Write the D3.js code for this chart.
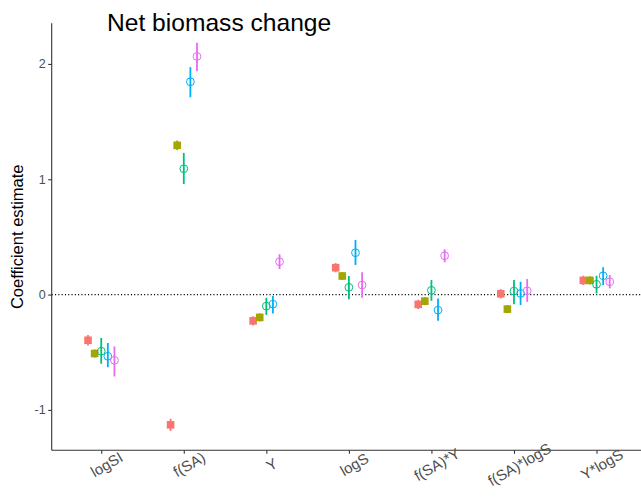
<!DOCTYPE html>
<html><head><meta charset="utf-8">
<script src="https://cdn.jsdelivr.net/npm/d3@7"></script>
<style>body{margin:0;background:#fff}svg{display:block}</style>
</head><body>
<svg id="chart" width="641" height="504"></svg>
<script>
const categories = ["logSI","f(SA)","Y","logS","f(SA)*Y","f(SA)*logS","Y*logS"];
const seriesNames = ["s1","s2","s3","s4","s5"];
const seriesColors = ["#F8766D","#A3A500","#00BF7D","#00B0F6","#E76BF3"];
const seriesShapes = ["square","square","circle","circle","circle"];
const yTicks = [-1,0,1,2];

const s1Est = [-0.396,-1.129,-0.228,0.233,-0.085,0.007,0.123];
const s1Lo  = [-0.441,-1.182,-0.268,0.193,-0.125,-0.033,0.083];
const s1Hi  = [-0.351,-1.076,-0.188,0.273,-0.045,0.047,0.163];
const s2Est = [-0.511,1.294,-0.198,0.161,-0.057,-0.126,0.123];
const s2Lo  = [-0.546,1.252,-0.233,0.126,-0.092,-0.161,0.088];
const s2Hi  = [-0.476,1.336,-0.163,0.196,-0.022,-0.091,0.158];
const s3Est = [-0.491,1.091,-0.100,0.063,0.037,0.030,0.089];
const s3Lo  = [-0.600,0.958,-0.176,-0.042,-0.054,-0.083,0.010];
const s3Hi  = [-0.376,1.228,-0.028,0.161,0.126,0.126,0.163];
const s4Est = [-0.535,1.845,-0.083,0.363,-0.135,0.010,0.163];
const s4Lo  = [-0.630,1.711,-0.163,0.257,-0.228,-0.091,0.083];
const s4Hi  = [-0.420,1.972,-0.013,0.474,-0.033,0.111,0.237];
const s5Est = [-0.570,2.065,0.285,0.083,0.337,0.033,0.111];
const s5Lo  = [-0.710,1.937,0.222,-0.028,0.280,-0.063,0.054];
const s5Hi  = [-0.450,2.184,0.350,0.193,0.393,0.135,0.170];

const est = [s1Est,s2Est,s3Est,s4Est,s5Est];
const lo = [s1Lo,s2Lo,s3Lo,s4Lo,s5Lo];
const hi = [s1Hi,s2Hi,s3Hi,s4Hi,s5Hi];

const data = [];
seriesNames.forEach((s,si)=>categories.forEach((c,ci)=>{
  data.push({series:s, si, cat:c, est:est[si][ci], lo:lo[si][ci], hi:hi[si][ci]});
}));

const svg = d3.select("#chart");
const font = "'Liberation Sans', Arial, sans-serif";
const mLeft = 51.7, mTop = 23.3, mBottom = 450.3;
const step = 82.55;
const mRight = mLeft + step*7.2;

const x = d3.scalePoint().domain(categories).range([mLeft, mRight]).padding(0.6);
const dodgeW = 0.4*x.step();
const xs = d3.scaleBand().domain(seriesNames).range([-dodgeW/2, dodgeW/2]);
const px = d => x(d.cat) + xs(d.series) + xs.bandwidth()/2;

const mn = d3.min(data, d=>d.lo), mx = d3.max(data, d=>d.hi);
const pad = (mx-mn)*0.05;
const y = d3.scaleLinear().domain([mn-pad, mx+pad]).range([mBottom, mTop]);

const color = d3.scaleOrdinal().domain(seriesNames).range(seriesColors);
const shape = d3.scaleOrdinal().domain(seriesNames).range(seriesShapes);

// zero line
svg.append("line").attr("x1",mLeft).attr("x2",641).attr("y1",y(0)).attr("y2",y(0))
  .attr("stroke","#000").attr("stroke-width",1.1).attr("stroke-dasharray","1.1,2.2");

// axes
const yAxis = d3.axisLeft(y).tickValues(yTicks).tickSize(3.5).tickPadding(2.5).tickFormat(d => String(d));
const gy = svg.append("g").attr("transform",`translate(${mLeft},0)`).call(yAxis);
gy.select(".domain").attr("d",`M0,${mTop}V${mBottom}`).attr("stroke","#333").attr("stroke-width",1.1);
gy.selectAll(".tick line").attr("stroke","#333").attr("stroke-width",1.1);
gy.selectAll(".tick text").attr("fill","#4D4D4D").style("font-family",font).style("font-size","12.5px");

const xAxis = d3.axisBottom(x).tickSize(3.5).tickPadding(0);
const gx = svg.append("g").attr("transform",`translate(0,${mBottom})`).call(xAxis);
gx.select(".domain").attr("d",`M${mLeft},0H641`).attr("stroke","#333").attr("stroke-width",1.1);
gx.selectAll(".tick line").attr("stroke","#333").attr("stroke-width",1.1);
gx.selectAll(".tick text").attr("fill","#4D4D4D").style("font-family",font).style("font-size","15px")
  .attr("text-anchor","middle").attr("dy",null).attr("dominant-baseline","hanging")
  .attr("y",null).attr("transform","translate(2,9) rotate(-30)");

// error bars
svg.append("g").selectAll("line").data(data).join("line")
  .attr("x1",px).attr("x2",px).attr("y1",d=>y(d.lo)).attr("y2",d=>y(d.hi))
  .attr("stroke",d=>color(d.series)).attr("stroke-width",1.8);

// points
const pts = svg.append("g");
pts.selectAll("rect").data(data.filter(d=>shape(d.series)==="square")).join("rect")
  .attr("x",d=>px(d)-3.8).attr("y",d=>y(d.est)-3.8).attr("width",7.6).attr("height",7.6)
  .attr("fill",d=>color(d.series));
pts.selectAll("circle").data(data.filter(d=>shape(d.series)==="circle")).join("circle")
  .attr("cx",px).attr("cy",d=>y(d.est)).attr("r",3.9)
  .attr("fill","none").attr("stroke",d=>color(d.series)).attr("stroke-width",1);

// titles
svg.append("text").attr("x",107).attr("y",30.7).text("Net biomass change")
  .style("font-family",font).style("font-size","24.6px").attr("fill","#000");
svg.append("text").attr("transform",`translate(23,${(mTop+mBottom)/2}) rotate(-90)`)
  .attr("text-anchor","middle").text("Coefficient estimate")
  .style("font-family",font).style("font-size","16.5px").attr("fill","#000");
</script>
</body></html>
